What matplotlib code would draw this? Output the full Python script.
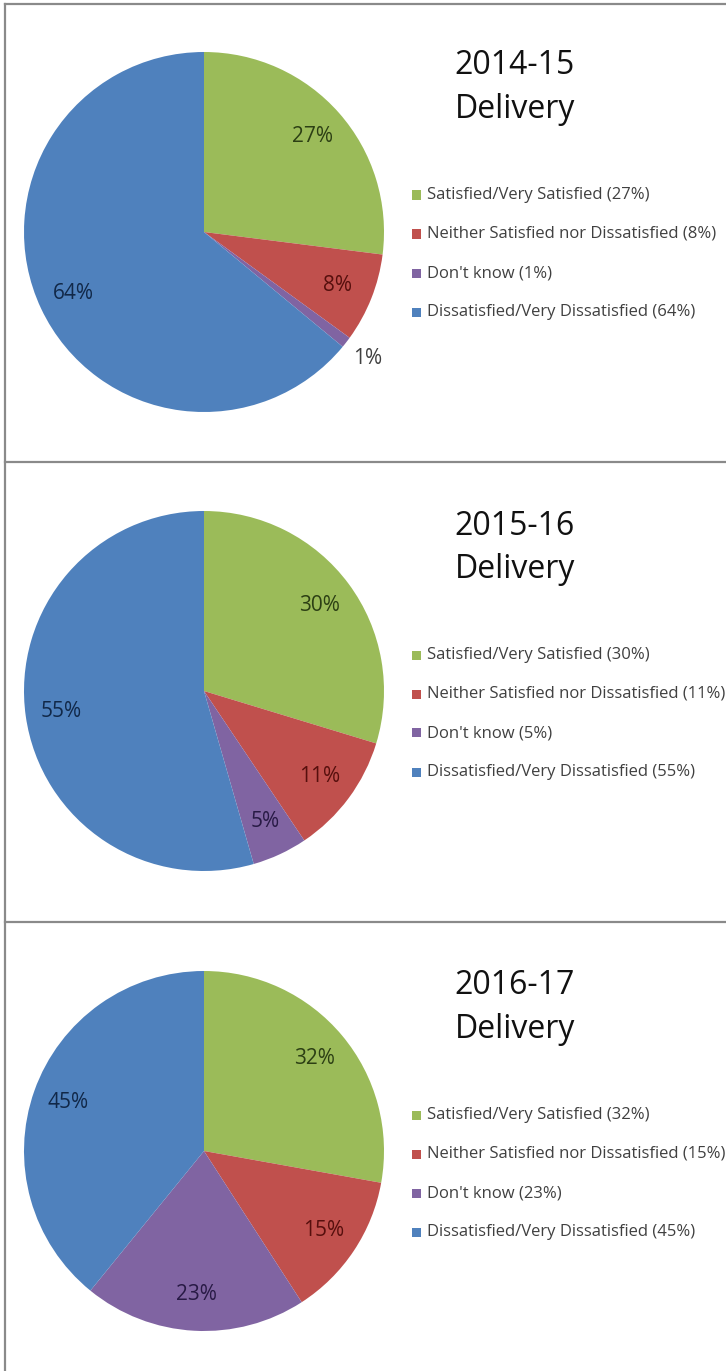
import matplotlib
matplotlib.use("Agg")
import matplotlib.pyplot as plt
from matplotlib.patches import Rectangle
from matplotlib.lines import Line2D
import numpy as np

# ---------------- data ----------------
years = ["2014-15", "2015-16", "2016-17"]
subtitle = "Delivery"
categories = ["Satisfied/Very Satisfied",
              "Neither Satisfied nor Dissatisfied",
              "Don't know",
              "Dissatisfied/Very Dissatisfied"]
values_2014 = [27, 8, 1, 64]
values_2015 = [30, 11, 5, 55]
values_2016 = [32, 15, 23, 45]
all_values = [values_2014, values_2015, values_2016]

# ---------------- style ----------------
colors = ["#9BBB59", "#C0504D", "#8064A2", "#4F81BD"]
label_colors = ["#2c3f14", "#560f0d", "#281a45", "#112848"]
outside_color = "#404040"
FONT = ["Open Sans", "DejaVu Sans"]
W, H = 726, 1371
DPI = 100

pie_cx = 204
pie_cy = [232, 691, 1151]
pie_r = 180
title_x = 515
title_y1 = [66, 526, 986]
title_y2 = [110, 570, 1030]
legend_x = 412
legend_y0 = [195, 655, 1115]
legend_dy = 39
marker = 9
inside_dist = 0.80
outside_dist = 1.15
outside_threshold = 0.02
panel_top = [4, 462, 922]

fig = plt.figure(figsize=(W / DPI, H / DPI), dpi=DPI)
fig.patch.set_facecolor("white")


def fx(px):
    return px / W


def fy(py):
    return 1 - py / H


# panel frames
for yt in panel_top:
    fig.add_artist(Line2D([fx(5), 1.0], [fy(yt), fy(yt)], color="#8a8a8a",
                          lw=1.6, transform=fig.transFigure))
fig.add_artist(Line2D([fx(5), fx(5)], [fy(panel_top[0]), 0], color="#8a8a8a",
                      lw=1.6, transform=fig.transFigure))

for i, vals in enumerate(all_values):
    cy = pie_cy[i]
    ax = fig.add_axes([fx(pie_cx - pie_r), fy(cy + pie_r),
                       2 * pie_r / W, 2 * pie_r / H])
    wedges, _ = ax.pie(vals, colors=colors, startangle=90, counterclock=False,
                       radius=1.0, wedgeprops=dict(linewidth=0))
    ax.set_xlim(-1, 1)
    ax.set_ylim(-1, 1)
    ax.set_aspect("equal")
    ax.axis("off")
    total = float(sum(vals))
    for j, (w, v) in enumerate(zip(wedges, vals)):
        mid = np.deg2rad((w.theta1 + w.theta2) / 2)
        small = v / total < outside_threshold
        d = outside_dist if small else inside_dist
        ax.text(d * np.cos(mid), d * np.sin(mid), f"{v}%",
                ha="center", va="center", fontsize=15, family=FONT,
                color=outside_color if small else label_colors[j])

    # titles
    fig.text(fx(title_x), fy(title_y1[i]), years[i], ha="center", va="center",
             fontsize=23, family=FONT, color="#111111")
    fig.text(fx(title_x), fy(title_y2[i]), subtitle, ha="center", va="center",
             fontsize=23, family=FONT, color="#111111")

    # legend
    for j, cat in enumerate(categories):
        ly = legend_y0[i] + j * legend_dy
        fig.add_artist(Rectangle((fx(legend_x), fy(ly + marker / 2)),
                                 marker / W, marker / H, facecolor=colors[j],
                                 edgecolor="none", transform=fig.transFigure))
        fig.text(fx(legend_x + marker + 6), fy(ly), f"{cat} ({vals[j]}%)",
                 ha="left", va="center", fontsize=12, family=FONT,
                 color="#404040")

fig.savefig("out.png", dpi=DPI, facecolor="white")
